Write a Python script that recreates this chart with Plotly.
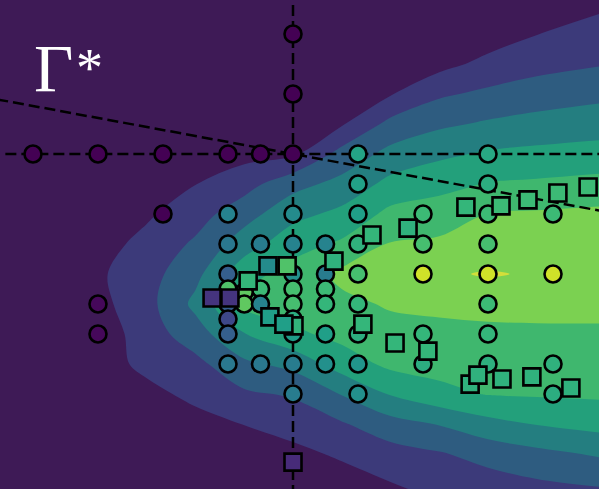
import plotly.graph_objects as go

# Feld (gelesen aus dem Bild), Spalten = grid_u, Zeilen = grid_v (oben -> unten)
grid_u = [-9.1, -7.5, -6, -4.5, -3, -1.5, 0, 1.5, 3, 4.5, 6, 7.5, 9.5]
grid_v = [9.2, 8, 7, 6, 5, 4, 3, 2, 1, 0, -1, -2, -3, -4, -5, -6, -7.2]

col_m91 = [0] * 17
col_m75 = [0] * 17
col_m6 = [0, 0, 0, 0, 0, 0, 0, 0, 0.6, 0.85, 0.7, 0.4, 0.55, 0.2, 0, 0, 0]
col_m45 = [0, 0, 0, 0, 0, 0, 0.1, 0.85, 1.3, 1.6, 1.65, 1.5, 1.25, 0.72, 0, 0, 0]
col_m3 = [0, 0, 0, 0, 0, 0.23, 0.98, 1.58, 2.16, 2.71, 3.25, 2.55, 1.71, 1.25, 0.65, 0, 0]
col_m15 = [0, 0, 0, 0, 0, 0.68, 1.61, 2.59, 3.52, 4.64, 5.26, 3.96, 2.8, 1.84, 1.03, 0.28, 0]
col_0 = [0, 0, 0, 0, 0.1, 0.85, 2.67, 3.69, 4.63, 5.36, 5.48, 4.8, 3.3, 2.11, 1.41, 0.73, 0]
col_15 = [0, 0, 0, 0.15, 0.9, 2.36, 3.3, 4.26, 5.16, 6.23, 5.77, 5.29, 4.48, 3.05, 1.9, 1.15, 0.4]
col_3 = [0, 0, 0.18, 0.93, 2.3, 3.3, 4.3, 5.26, 6.06, 6.5, 6.1, 5.67, 5.23, 4.07, 2.61, 1.59, 0.83]
col_45 = [0, 0, 0.68, 1.85, 2.82, 3.8, 4.69, 5.48, 6.18, 6.85, 6.22, 5.73, 5.34, 4.73, 3.05, 1.91, 1.24]
col_6 = [0, 0.48, 1.28, 2.21, 3.13, 4.13, 5.06, 6.02, 6.35, 7.08, 6.3, 5.79, 5.42, 5.05, 3.68, 2.35, 1.43]
col_75 = [0.23, 0.98, 1.67, 2.47, 3.36, 4.26, 5.16, 6.12, 6.51, 6.9, 6.31, 5.83, 5.47, 5.11, 4.05, 2.72, 1.68]
col_95 = [0.73, 1.37, 1.94, 2.75, 3.57, 4.38, 5.33, 6.23, 6.67, 6.7, 6.26, 5.86, 5.51, 5.16, 4.36, 3.13, 1.9]

columns = [col_m91, col_m75, col_m6, col_m45, col_m3, col_m15, col_0,
           col_15, col_3, col_45, col_6, col_75, col_95]
z = [[c[i] for c in columns] for i in range(len(grid_v))]

band_colors = ["#3e1a56", "#3c3a7a", "#2e5c80", "#247e80",
               "#23a07b", "#3fb76e", "#7bd151", "#d2de3a"]

# Kreise (x, y, Farbwert 0..1)
circle_u = [0, 0,
            -8, -6, -4, -2, -1, 0, 2, 6,
            2, 6,
            -4, -2, 0, 2, 4, 6, 8,
            -2, -1, 0, 1, 2, 4, 6,
            -2, 0, 1, 2, 4, 6, 8,
            -2, -1, 0, 1, -1.5,
            -1.5, -1, -2, 0, 1, 2, 6,
            -2, 0,
            -2, 0, 1, 2, 4, 6,
            -2, -1, 0, 1, 2, 4, 6, 8,
            0, 2, 8,
            -6, -6]
circle_v = [8, 6,
            4, 4, 4, 4, 4, 4, 4, 4,
            3, 3,
            2, 2, 2, 2, 2, 2, 2,
            1, 1, 1, 1, 1, 1, 1,
            0, 0, 0, 0, 0, 0, 0,
            -0.5, -0.5, -0.5, -0.5, -0.6,
            -1, -1, -1, -1, -1, -1, -1,
            -1.5, -1.5,
            -2, -2, -2, -2, -2, -2,
            -3, -3, -3, -3, -3, -3, -3, -3,
            -4, -4, -4,
            -1, -2]
circle_c = [0, 0,
            0, 0, 0, 0, 0, 0, 0.58, 0.6,
            0.57, 0.62,
            0, 0.45, 0.48, 0.56, 0.68, 0.68, 0.68,
            0.4, 0.42, 0.45, 0.45, 0.64, 0.7, 0.7,
            0.3, 0.5, 0.42, 0.7, 0.93, 0.93, 0.93,
            0.72, 0.68, 0.7, 0.68, 0.75,
            0.75, 0.45, 0.3, 0.7, 0.66, 0.66, 0.68,
            0.22, 0.62,
            0.3, 0.55, 0.56, 0.62, 0.66, 0.66,
            0.4, 0.4, 0.42, 0.5, 0.52, 0.62, 0.63, 0.64,
            0.42, 0.5, 0.62,
            0.02, 0.02]

# Quadrate
square_u = [5.32, 6.4, 7.23, 8.15, 9.08,
            2.43, 3.54, 1.26,
            2.15, 3.14, 4.15,
            5.45, 5.69, 6.43, 7.35, 8.55,
            0,
            0.03, -0.77, -0.18, -1.38,
            -2.49, -1.94,
            -0.71, -0.28]
square_v = [2.23, 2.27, 2.47, 2.7, 2.9,
            1.3, 1.53, 0.43,
            -1.67, -2.3, -2.57,
            -3.67, -3.37, -3.5, -3.43, -3.8,
            -6.27,
            -1.73, 0.27, 0.27, -0.23,
            -0.8, -0.8,
            -1.43, -1.67]
square_c = [0.66, 0.68, 0.68, 0.68, 0.68,
            0.66, 0.64, 0.64,
            0.66, 0.66, 0.66,
            0.64, 0.64, 0.64, 0.64, 0.64,
            0.12,
            0.65, 0.48, 0.72, 0.66,
            0.15, 0.15,
            0.56, 0.56]

# gestrichelte Linien
vline_u, vline_v = [0, 0], [9.5, -7.5]
hline_u, hline_v = [-8.85, 9.5], [4, 4]
slope_u, slope_v = [-9.1, 9.5], [5.82, 2.1]

n = len(band_colors) - 1
cscale = []
for i in range(n):
    cscale.append([i / n, band_colors[i]])
    cscale.append([(i + 1) / n if i < n - 1 else 0.99, band_colors[i]])
cscale.append([1.0, band_colors[-1]])

data = [
    go.Contour(
        x=grid_u, y=grid_v, z=z,
        contours=dict(start=1, end=7, size=1, coloring="fill", showlines=False),
        line=dict(width=0),
        colorscale=cscale,
        showscale=False,
        hoverinfo="skip",
    )
]

dash = dict(color="black", width=2.5, dash="11px,5px")
for xs, ys in [(vline_u, vline_v), (hline_u, hline_v), (slope_u, slope_v)]:
    data.append(go.Scatter(x=xs, y=ys, mode="lines", line=dash, hoverinfo="skip"))

data.append(go.Scatter(
    x=circle_u, y=circle_v, mode="markers",
    marker=dict(symbol="circle", size=17, color=circle_c, colorscale="Viridis",
                cmin=0, cmax=1, line=dict(color="black", width=2.6)),
))
data.append(go.Scatter(
    x=square_u, y=square_v, mode="markers",
    marker=dict(symbol="square", size=17, color=square_c, colorscale="Viridis",
                cmin=0, cmax=1, line=dict(color="black", width=2.6)),
))

layout = go.Layout(
    width=599, height=489,
    margin=dict(l=0, r=0, t=0, b=0),
    showlegend=False,
    paper_bgcolor=band_colors[0],
    plot_bgcolor=band_colors[0],
    xaxis=dict(range=[-9.015, 9.415], visible=False, fixedrange=True),
    yaxis=dict(range=[-7.167, 9.133], visible=False, fixedrange=True),
    annotations=[
        dict(text="Γ", x=32 / 599, y=1 - 28 / 489, xref="paper", yref="paper",
             xanchor="left", yanchor="top", showarrow=False,
             font=dict(family="Liberation Serif", size=68, color="white")),
        dict(text="*", x=74 / 599, y=1 - 36 / 489, xref="paper", yref="paper",
             xanchor="left", yanchor="top", showarrow=False,
             font=dict(family="Liberation Serif", size=54, color="white")),
    ],
)

fig = go.Figure(data=data, layout=layout)
fig.write_html("out.html", config={"displayModeBar": False},
               post_script="document.body.style.margin='0';")
